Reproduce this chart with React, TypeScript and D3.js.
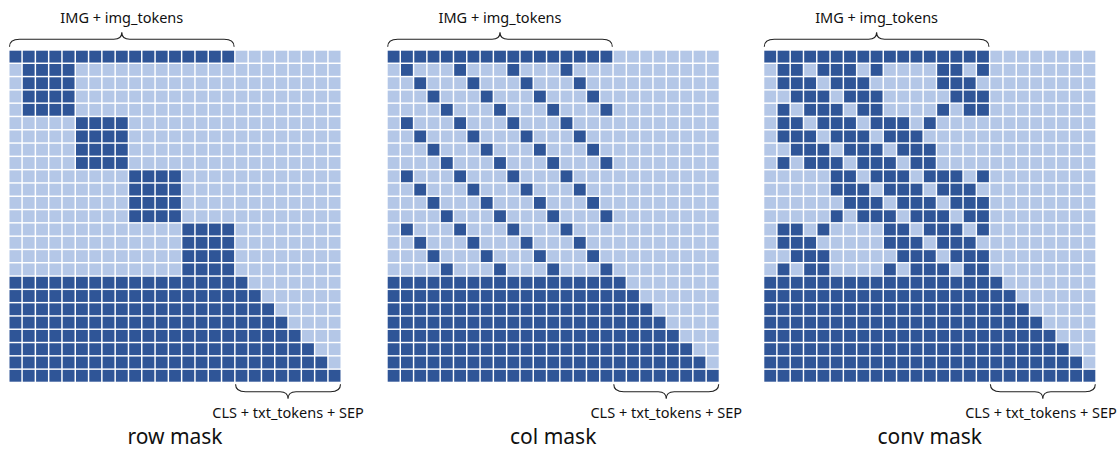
import React from 'react';
import * as d3 from 'd3';

const W = 1119;
const H = 449;
const DARK = '#2F5597';
const LIGHT = '#B4C7E7';

// token layout: IMG + 16 image tokens, then CLS + 6 txt tokens + SEP
const N_IMG = 17;
const N_TXT = 8;
const tokens = d3.range(N_IMG + N_TXT);

const panelTitles = ['row mask', 'col mask', 'conv mask'];
const imgLabel = 'IMG + img_tokens';
const txtLabel = 'CLS + txt_tokens + SEP';

// "1" = attends (dark), "0" = masked (light)
const rowMaskImg = [
  '1111111111111111100000000',
  '0111100000000000000000000',
  '0111100000000000000000000',
  '0111100000000000000000000',
  '0111100000000000000000000',
  '0000011110000000000000000',
  '0000011110000000000000000',
  '0000011110000000000000000',
  '0000011110000000000000000',
  '0000000001111000000000000',
  '0000000001111000000000000',
  '0000000001111000000000000',
  '0000000001111000000000000',
  '0000000000000111100000000',
  '0000000000000111100000000',
  '0000000000000111100000000',
  '0000000000000111100000000',
];

const colMaskImg = [
  '1111111111111111100000000',
  '0100010001000100000000000',
  '0010001000100010000000000',
  '0001000100010001000000000',
  '0000100010001000100000000',
  '0100010001000100000000000',
  '0010001000100010000000000',
  '0001000100010001000000000',
  '0000100010001000100000000',
  '0100010001000100000000000',
  '0010001000100010000000000',
  '0001000100010001000000000',
  '0000100010001000100000000',
  '0100010001000100000000000',
  '0010001000100010000000000',
  '0001000100010001000000000',
  '0000100010001000100000000',
];

const convMaskImg = [
  '1111111111111111100000000',
  '0110111010000110100000000',
  '0111011100000111000000000',
  '0011101110000011100000000',
  '0101110110000101100000000',
  '0110111011101000000000000',
  '0111011101110000000000000',
  '0011101110111000000000000',
  '0101110111011000000000000',
  '0000011011101110100000000',
  '0000011101110111000000000',
  '0000001110111011100000000',
  '0000010111011101100000000',
  '0110100001101110100000000',
  '0111000001110111000000000',
  '0011100000111011100000000',
  '0101100001011101100000000',
];

// text rows are the same in every panel
const txtRows = [
  '1111111111111111110000000',
  '1111111111111111111000000',
  '1111111111111111111100000',
  '1111111111111111111110000',
  '1111111111111111111111000',
  '1111111111111111111111100',
  '1111111111111111111111110',
  '1111111111111111111111111',
];

const masks = [rowMaskImg, colMaskImg, convMaskImg].map((m) => m.concat(txtRows));

const panelX = [9.5, 387.7, 764.3];
const GRID_Y = 50.7;
const GRID = 331;

const band = d3.scaleBand<number>().domain(tokens).range([0, GRID]).paddingInner(0.11);

function bracePath(x0: number, x1: number, yEnd: number, s: number) {
  // s = -1 : tip points up, s = +1 : tip points down
  const yLine = yEnd + s * 7.5;
  const yTip = yEnd + s * 14.5;
  const xm = (x0 + x1) / 2;
  const r = 10;
  const t = 8;
  return `M${x0},${yEnd} Q${x0},${yLine} ${x0 + r},${yLine} L${xm - t},${yLine} Q${xm},${yLine} ${xm},${yTip} ` +
    `Q${xm},${yLine} ${xm + t},${yLine} L${x1 - r},${yLine} Q${x1},${yLine} ${x1},${yEnd}`;
}

const Panel = ({ mask, title, gx }: { mask: string[]; title: string; gx: number }) => {
  const bw = band.bandwidth();
  const imgX0 = gx + (band(0) as number);
  const imgX1 = gx + (band(N_IMG - 1) as number) + bw;
  const txtX0 = gx + (band(N_IMG) as number);
  const txtX1 = gx + (band(N_IMG + N_TXT - 1) as number) + bw;
  const gridBottom = GRID_Y + GRID;
  return (
    <g>
      <text x={(imgX0 + imgX1) / 2} y={23} textAnchor="middle" fontSize={14.5} fill="#111">
        {imgLabel}
      </text>
      <path d={bracePath(imgX0, imgX1, GRID_Y - 4, -1)} fill="none" stroke="#222" strokeWidth={1.1} />
      <g transform={`translate(${gx},${GRID_Y})`}>
        {mask.map((row, i) =>
          row.split('').map((v, j) => (
            <rect
              key={`${i}-${j}`}
              x={band(j)}
              y={band(i)}
              width={bw}
              height={bw}
              fill={v === '1' ? DARK : LIGHT}
            />
          ))
        )}
      </g>
      <path d={bracePath(txtX0, txtX1, gridBottom + 2.5, 1)} fill="none" stroke="#222" strokeWidth={1.1} />
      <text x={Math.min((txtX0 + txtX1) / 2, W - 78)} y={418} textAnchor="middle" fontSize={14.5} fill="#111">
        {txtLabel}
      </text>
      <text x={gx + GRID / 2} y={444} textAnchor="middle" fontSize={21} fill="#111">
        {title}
      </text>
    </g>
  );
};

export default function App() {
  return (
    <svg
      width={W}
      height={H}
      viewBox={`0 0 ${W} ${H}`}
      style={{ position: 'absolute', left: 0, top: 0, background: '#fff' }}
      fontFamily="'Noto Sans', 'Open Sans', sans-serif"
    >
      {masks.map((m, k) => (
        <Panel key={k} mask={m} title={panelTitles[k]} gx={panelX[k]} />
      ))}
    </svg>
  );
}
